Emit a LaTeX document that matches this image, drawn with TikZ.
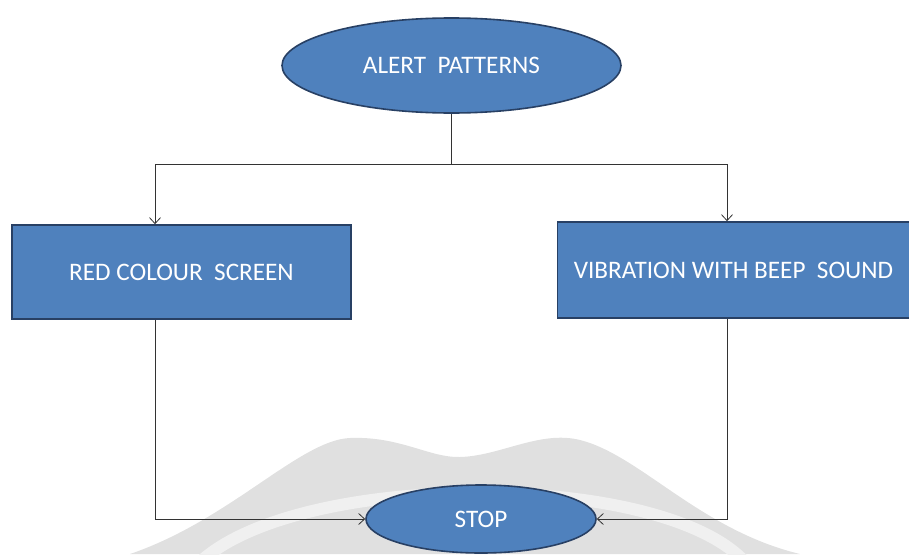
\documentclass[tikz,border=0pt]{standalone}
\usepackage{fontspec}
\setmainfont{Carlito}
\usepackage{tikz}
\usetikzlibrary{shapes.geometric,arrows.meta}
\definecolor{flowblue}{RGB}{79,129,189}
\definecolor{flowedge}{RGB}{40,64,100}
\definecolor{wmgray}{RGB}{224,224,224}
\definecolor{wmlight}{RGB}{240,240,240}
\newcommand{\boxfont}{\fontsize{25.2}{29}\selectfont}

\begin{document}
\begin{tikzpicture}[x=1pt,y=-1pt,
    blob/.style={ellipse, draw=flowedge, line width=1.6pt, fill=flowblue,
        text=white, font=\boxfont, inner sep=0pt},
    panel/.style={rectangle, draw=flowedge, line width=1.6pt, fill=flowblue,
        text=white, font=\boxfont, inner sep=0pt},
    wire/.style={draw=black!80, line width=0.8pt},
    arr/.style={wire, -{Straight Barb[length=6pt,width=11pt]}}]
    \useasboundingbox (0,0) rectangle (909,554);

    % Watermark in the background
    \fill[wmgray] (130,554) .. controls (230,520) and (300,440) .. (350,438)
        .. controls (400,436) and (430,458) .. (460,457)
        .. controls (500,456) and (540,430) .. (580,440)
        .. controls (640,455) and (700,530) .. (800,554) -- cycle;
    \draw[wmlight, line width=12pt] (200,562) .. controls (300,470) and (660,470) .. (745,562);

    % Boxes
    \node[blob, minimum width=339, minimum height=95] (alert) at (451.5,65.5) {ALERT\ \ PATTERNS};
    \node[panel, minimum width=339, minimum height=94] (red) at (181.5,272) {RED COLOUR\ \ SCREEN};
    \node[panel, minimum width=352, minimum height=96] (vib) at (733.5,270) {VIBRATION WITH BEEP\ \ SOUND};
    \node[blob, minimum width=230, minimum height=68] (stop) at (481,519) {STOP};

    % Connectors
    \coordinate (split) at (451.5,164);
    \draw[wire] (alert.south) -- (split);
    \draw[arr] (split) -| ([xshift=-26.5pt]red.north);
    \draw[arr] (split) -| ([xshift=-6.5pt]vib.north);
    \draw[arr] ([xshift=-26.5pt]red.south) |- (stop.west);
    \draw[arr] ([xshift=-6.5pt]vib.south) |- (stop.east);
\end{tikzpicture}
\end{document}
